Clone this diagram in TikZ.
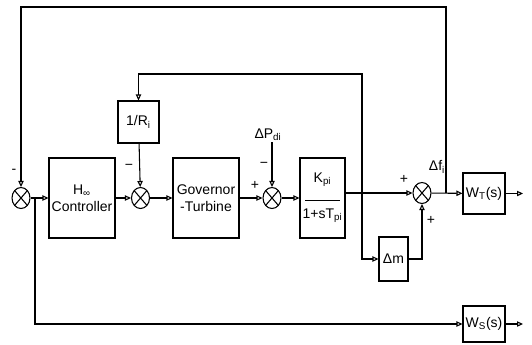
\documentclass[tikz,border=0pt]{standalone}
\usepackage{fontspec}
\setmainfont{Liberation Sans}
\usetikzlibrary{arrows.meta,shapes.geometric,positioning}

\begin{document}
\begin{tikzpicture}[x=0.75pt, y=-0.75pt,
>={Triangle[open,length=4.5pt,width=4pt]}, line width=0.8pt,
font=\fontsize{10.5}{12.5}\selectfont,
block/.style={draw, rectangle, inner sep=0pt, align=center},
sum node/.style={draw, ellipse, inner sep=0pt, minimum width=13.5pt, minimum height=15.75pt,
  path picture={\draw[line width=0.8pt]
    (path picture bounding box.north west) -- (path picture bounding box.south east)
    (path picture bounding box.north east) -- (path picture bounding box.south west);}},
sign/.style={inner sep=0pt}
	]
	\useasboundingbox (0,0) rectangle (532,344);
	% Nodes
	\node[sum node] (s1) at (21,198) {};
	\node[block, minimum width=49.5pt, minimum height=60pt] (H) at (82,198) {H\textsubscript{∞}\\Controller};
	\node[sum node] (s2) at (140.5,198) {};
	\node[block, minimum width=30.75pt, minimum height=31.5pt] (R) at (138.5,122) {1/R\textsubscript{i}};
	\node[block, minimum width=49.5pt, minimum height=60pt] (gov) at (206,198) {Governor\\-Turbine};
	\node[sum node] (s3) at (272,198) {};
	\node[block, minimum width=33.75pt, minimum height=60pt] (kpi) at (322.5,198) {K\textsubscript{pi}\\[1pt]\rule{26pt}{0.8pt}\\[1pt]1+sT\textsubscript{pi}};
	\node[sum node] (s4) at (422,193) {};
	\node[block, minimum width=31.5pt, minimum height=30.75pt] (wt) at (484,193.5) {W\textsubscript{T}(s)};
	\node[block, minimum width=21.75pt, minimum height=33pt] (dm) at (393.5,259) {Δm};
	\node[block, minimum width=31.5pt, minimum height=27pt] (ws) at (484,324) {W\textsubscript{S}(s)};
	% Labels
	\node[sign] (m1) at (14,171) {-};
	\node[sign] (m2) at (129,167) {−};
	\node[sign] (p3) at (255,185) {+};
	\node[sign] (m3) at (264,165) {−};
	\node (dP) at (268,135) {ΔP\textsubscript{di}};
	\node[sign] (p4) at (404,179) {+};
	\node[sign] (q4) at (431,220) {+};
	\node (df) at (437,167) {Δf\textsubscript{i}};
	% Coordinates
	\coordinate (brE) at (35,198);
	\coordinate (brK) at (362,193);
	\coordinate (brT) at (446,193);
	\coordinate (topL) at (21,7);
	\coordinate (topR) at (446,7);
	\coordinate (midL) at (138.5,74);
	\coordinate (midR) at (362,74);
	\coordinate (dmL) at (362,259);
	\coordinate (dpin) at (272,142);
	\coordinate (outT) at (523,193.5);
	\coordinate (outS) at (523,324);
	% Edges
	\draw[->] (s1) -- (H);
	\draw[->] (H) -- (s2);
	\draw[->] (s2) -- (gov);
	\draw[->] (gov) -- (s3);
	\draw[->] (s3) -- (kpi);
	\draw[->] (kpi.east |- s4) -- (s4);
	\draw[->] (s4) -- (wt);
	\draw[->] (wt) -- (outT);
	\draw[->] (ws) -- (outS);
	\draw[->] (brT) -- (topR) -- (topL) -- (s1);
	\draw[->] (brK) -- (midR) -- (midL) -- (R);
	\draw[->] (R) -- (s2);
	\draw[->] (brK) -- (dmL) -- (dm);
	\draw[->] (dm) -| (s4);
	\draw[->] (dpin) -- (s3);
	\draw[->] (brE) |- (ws);
\end{tikzpicture}
\end{document}
